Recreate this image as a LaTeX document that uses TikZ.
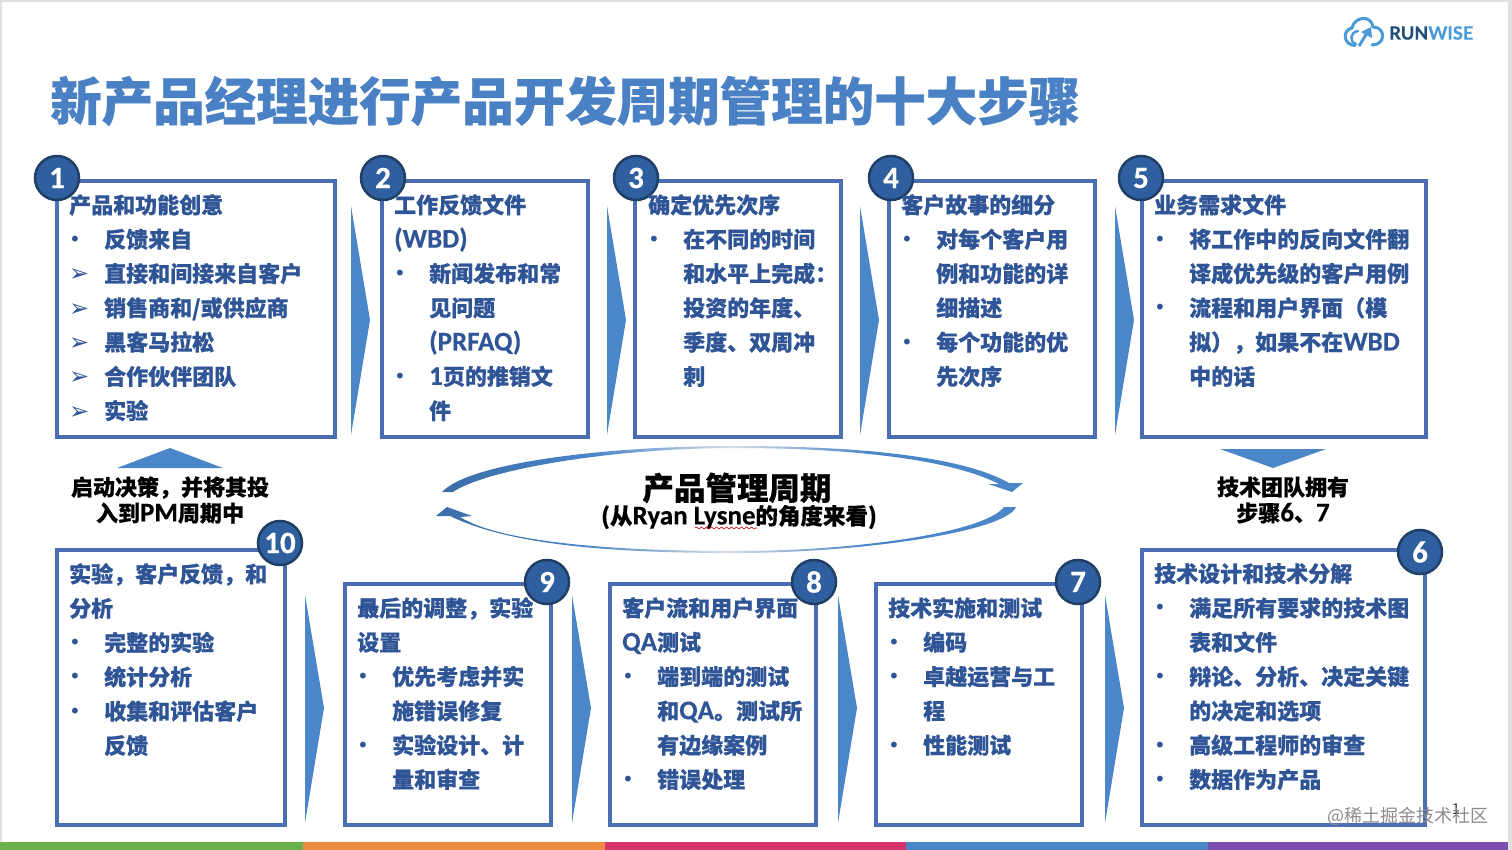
\documentclass[tikz,border=0pt]{standalone}
\usepackage{fontspec}
\usetikzlibrary{decorations.pathmorphing}
\setmainfont{Noto Sans CJK SC}[BoldFeatures={FakeBold=0.5}]
\newfontfamily\latfont{Carlito}[BoldFeatures={FakeBold=0.4}]
\newfontfamily\symfont{DejaVu Sans}
\newfontfamily\logofont{Lato}[BoldFeatures={FakeBold=0.6}]
\definecolor{boxblue}{HTML}{4A6DB3}
\definecolor{textblue}{HTML}{2F5597}
\definecolor{badgeblue}{HTML}{2F5F9E}
\definecolor{badgeline}{HTML}{1F3F66}
\definecolor{chevblue}{HTML}{4A86C8}
\definecolor{titleblue}{HTML}{4A80C4}
\definecolor{logodark}{HTML}{1F4E79}
\definecolor{logolight}{HTML}{4A9AD8}
\definecolor{arcdark}{HTML}{3B6CA8}
\definecolor{arcpale}{HTML}{D5DEE8}
\definecolor{stripgreen}{HTML}{6AB04C}
\definecolor{striporange}{HTML}{ED8B3F}
\definecolor{strippink}{HTML}{D6336C}
\definecolor{strippurple}{HTML}{7A4FB0}
\pgfdeclarehorizontalshading{cyclefade}{100bp}{color(0bp)=(arcdark); color(25bp)=(arcdark);
  color(38bp)=(chevblue); color(50bp)=(arcpale); color(62bp)=(chevblue); color(100bp)=(chevblue)}
\newcommand{\lat}[1]{{\latfont\bfseries\fontsize{27}{34.3}\selectfont #1}}
\newcommand{\dotitem}{\makebox[35pt][l]{\raisebox{1.5pt}{\symfont\mdseries\fontsize{20}{20}\selectfont •}}}
\newcommand{\arritem}{\makebox[35pt][l]{{\symfont\mdseries\fontsize{24}{34.3}\selectfont ➢}}}
\newcommand{\contitem}{\hspace*{35pt}}

\begin{document}
\begin{tikzpicture}[x=1pt,y=-1pt,
    stepbox/.style={draw=boxblue,line width=3.6pt,fill=white},
    badge/.style={circle,draw=badgeline,line width=2.5pt,fill=badgeblue,text=white,
      minimum size=44pt,inner sep=0pt,font=\latfont\bfseries\fontsize{31}{31}\selectfont},
    steptext/.style={anchor=north west,inner sep=0pt,align=left,text=textblue,
      font=\bfseries\fontsize{22}{34.3}\selectfont},
    sidetext/.style={align=center,inner sep=0pt,text=black,
      font=\bfseries\fontsize{22}{26}\selectfont},
    chevron/.style={fill=chevblue},
    cycle arc/.style={shading=cyclefade}]

  \useasboundingbox (0,0) rectangle (1512,850);
  \fill[black!12] (0,0) rectangle (1512,850);
  \fill[white] (2,2) rectangle (1508,850);

  % colour strip
  \fill[stripgreen] (0,842) rectangle (303,850);
  \fill[striporange] (303,842) rectangle (605,850);
  \fill[strippink] (605,842) rectangle (906,850);
  \fill[chevblue] (906,842) rectangle (1208,850);
  \fill[strippurple] (1208,842) rectangle (1508,850);

  % logo
  \draw[logolight,line width=3pt,line cap=round]
    (1355,45.5) .. controls (1343,45) and (1342,30) .. (1352,28)
    .. controls (1354,17) and (1371,14) .. (1373,27)
    .. controls (1386,27) and (1386,45) .. (1372,45);
  \draw[logolight,line width=2.5pt,line cap=round]
    (1358,31) .. controls (1350,32) and (1349,42) .. (1356,44);
  \draw[logolight,line width=3pt] (1359,46) -- (1367,33);
  \fill[logolight] (1371,27) -- (1372,38) -- (1361,32) -- cycle;
  \node[anchor=west,inner sep=0pt,font=\logofont\bfseries\fontsize{18.2}{21}\selectfont] (logo) at (1389,33)
    {\textcolor{logodark}{RUN}\textcolor{logolight}{WISE}};

  \node[anchor=west,inner sep=0pt,text=titleblue,font=\bfseries\fontsize{51.5}{56}\selectfont] (title) at (50,101)
    {新产品经理进行产品开发周期管理的十大步骤};

  % step boxes
  \draw[stepbox] (57,181) rectangle (335,437);
  \draw[stepbox] (382,181) rectangle (588,437);
  \draw[stepbox] (635,181) rectangle (841,437);
  \draw[stepbox] (889,181) rectangle (1095,437);
  \draw[stepbox] (1142,181) rectangle (1426,437);
  \draw[stepbox] (57,550) rectangle (285,825);
  \draw[stepbox] (345,584) rectangle (551,825);
  \draw[stepbox] (610,584) rectangle (816,825);
  \draw[stepbox] (876,584) rectangle (1082,825);
  \draw[stepbox] (1142,550) rectangle (1425,825);

  % chevrons
  \foreach \x in {351,607,860,1115}
    \fill[chevron] (\x,206) -- (\x+19,320) -- (\x,435) -- cycle;
  \foreach \x in {305,572,838,1105}
    \fill[chevron] (\x,595) -- (\x+19,708) -- (\x,823) -- cycle;
  \fill[chevron] (117,468) -- (170,448) -- (223,468) -- cycle;
  \fill[chevron] (1220,449) -- (1326,449) -- (1273,468) -- cycle;

  % badges
  \node[badge] (b1) at (57,178) {1};
  \node[badge] (b2) at (383,178) {2};
  \node[badge] (b3) at (636,178) {3};
  \node[badge] (b4) at (891,178) {4};
  \node[badge] (b5) at (1141,178) {5};
  \node[badge] (b6) at (1420,552) {6};
  \node[badge] (b7) at (1078,582) {7};
  \node[badge] (b8) at (814,582) {8};
  \node[badge] (b9) at (547,582) {9};
  \node[badge] (b10) at (280,543) {10};

  % step texts
  \node[steptext] (t1) at (69,194) {产品和功能创意\\
    \dotitem 反馈来自\\
    \arritem 直接和间接来自客户\\
    \arritem 销售商和/或供应商\\
    \arritem 黑客马拉松\\
    \arritem 合作伙伴团队\\
    \arritem 实验};
  \node[steptext] (t2) at (394,194) {工作反馈文件\\
    \lat{(WBD)}\\
    \dotitem 新闻发布和常\\
    \contitem 见问题\\
    \contitem \lat{(PRFAQ)}\\
    \dotitem \lat{1}页的推销文\\
    \contitem 件};
  \node[steptext] (t3) at (648,194) {确定优先次序\\
    \dotitem 在不同的时间\\
    \contitem 和水平上完成：\\
    \contitem 投资的年度、\\
    \contitem 季度、双周冲\\
    \contitem 刺};
  \node[steptext] (t4) at (901,194) {客户故事的细分\\
    \dotitem 对每个客户用\\
    \contitem 例和功能的详\\
    \contitem 细描述\\
    \dotitem 每个功能的优\\
    \contitem 先次序};
  \node[steptext] (t5) at (1154,194) {业务需求文件\\
    \dotitem 将工作中的反向文件翻\\
    \contitem 译成优先级的客户用例\\
    \dotitem 流程和用户界面（模\\
    \contitem 拟），如果不在\lat{WBD}\\
    \contitem 中的话};
  \node[steptext] (t6) at (1154,563) {技术设计和技术分解\\
    \dotitem 满足所有要求的技术图\\
    \contitem 表和文件\\
    \dotitem 辩论、分析、决定关键\\
    \contitem 的决定和选项\\
    \dotitem 高级工程师的审查\\
    \dotitem 数据作为产品};
  \node[steptext] (t7) at (888,597) {技术实施和测试\\
    \dotitem 编码\\
    \dotitem 卓越运营与工\\
    \contitem 程\\
    \dotitem 性能测试};
  \node[steptext] (t8) at (622,597) {客户流和用户界面\\
    \lat{QA}测试\\
    \dotitem 端到端的测试\\
    \contitem 和\lat{QA}。测试所\\
    \contitem 有边缘案例\\
    \dotitem 错误处理};
  \node[steptext] (t9) at (357,597) {最后的调整，实验\\
    设置\\
    \dotitem 优先考虑并实\\
    \contitem 施错误修复\\
    \dotitem 实验设计、计\\
    \contitem 量和审查};
  \node[steptext] (t10) at (69,563) {实验，客户反馈，和\\
    分析\\
    \dotitem 完整的实验\\
    \dotitem 统计分析\\
    \dotitem 收集和评估客户\\
    \contitem 反馈};

  \node[sidetext] (start) at (170,500) {启动决策，并将其投\\入到\lat{PM}周期中};
  \node[sidetext] (tech) at (1283,500) {技术团队拥有\\步骤\lat{6}、\lat{7}};

  % product cycle
  \shade[cycle arc] (442,492) .. controls (470,462) and (610,446) .. (735,446)
    .. controls (850,446) and (960,455) .. (1009,483)
    -- (1023,483) -- (1012,492) -- (988,484) -- (999,484)
    .. controls (950,459) and (850,448) .. (735,448)
    .. controls (610,448) and (485,470) .. (453,492) -- cycle;
  \shade[cycle arc] (436,516) -- (447,507) -- (472,516) -- (460,517)
    .. controls (500,542) and (610,551) .. (735,551)
    .. controls (860,551) and (985,532) .. (1004,507)
    -- (1016,507) .. controls (1005,532) and (860,553) .. (735,553)
    .. controls (610,553) and (510,545) .. (450,516) -- cycle;
  \node[inner sep=0pt,text=black,font=\bfseries\fontsize{31.5}{36}\selectfont] (cycle) at (737,488) {产品管理周期};
  \node[inner sep=0pt,text=black,font=\bfseries\fontsize{22.5}{26}\selectfont] (view) at (739,517)
    {(从\lat{Ryan Lysne}的角度来看)};
  \draw[red!80!black,line width=0.6pt,decorate,decoration={snake,amplitude=1pt,segment length=5pt}]
    (695,528) -- (757,528);

  \node[inner sep=0pt,text=black!75,font=\fontsize{15}{15}\selectfont] (page) at (1456,809) {1};
  \node[inner sep=0pt,text=black!45,font=\fontsize{18}{18}\selectfont] (mark) at (1408,816) {@稀土掘金技术社区};
\end{tikzpicture}
\end{document}
